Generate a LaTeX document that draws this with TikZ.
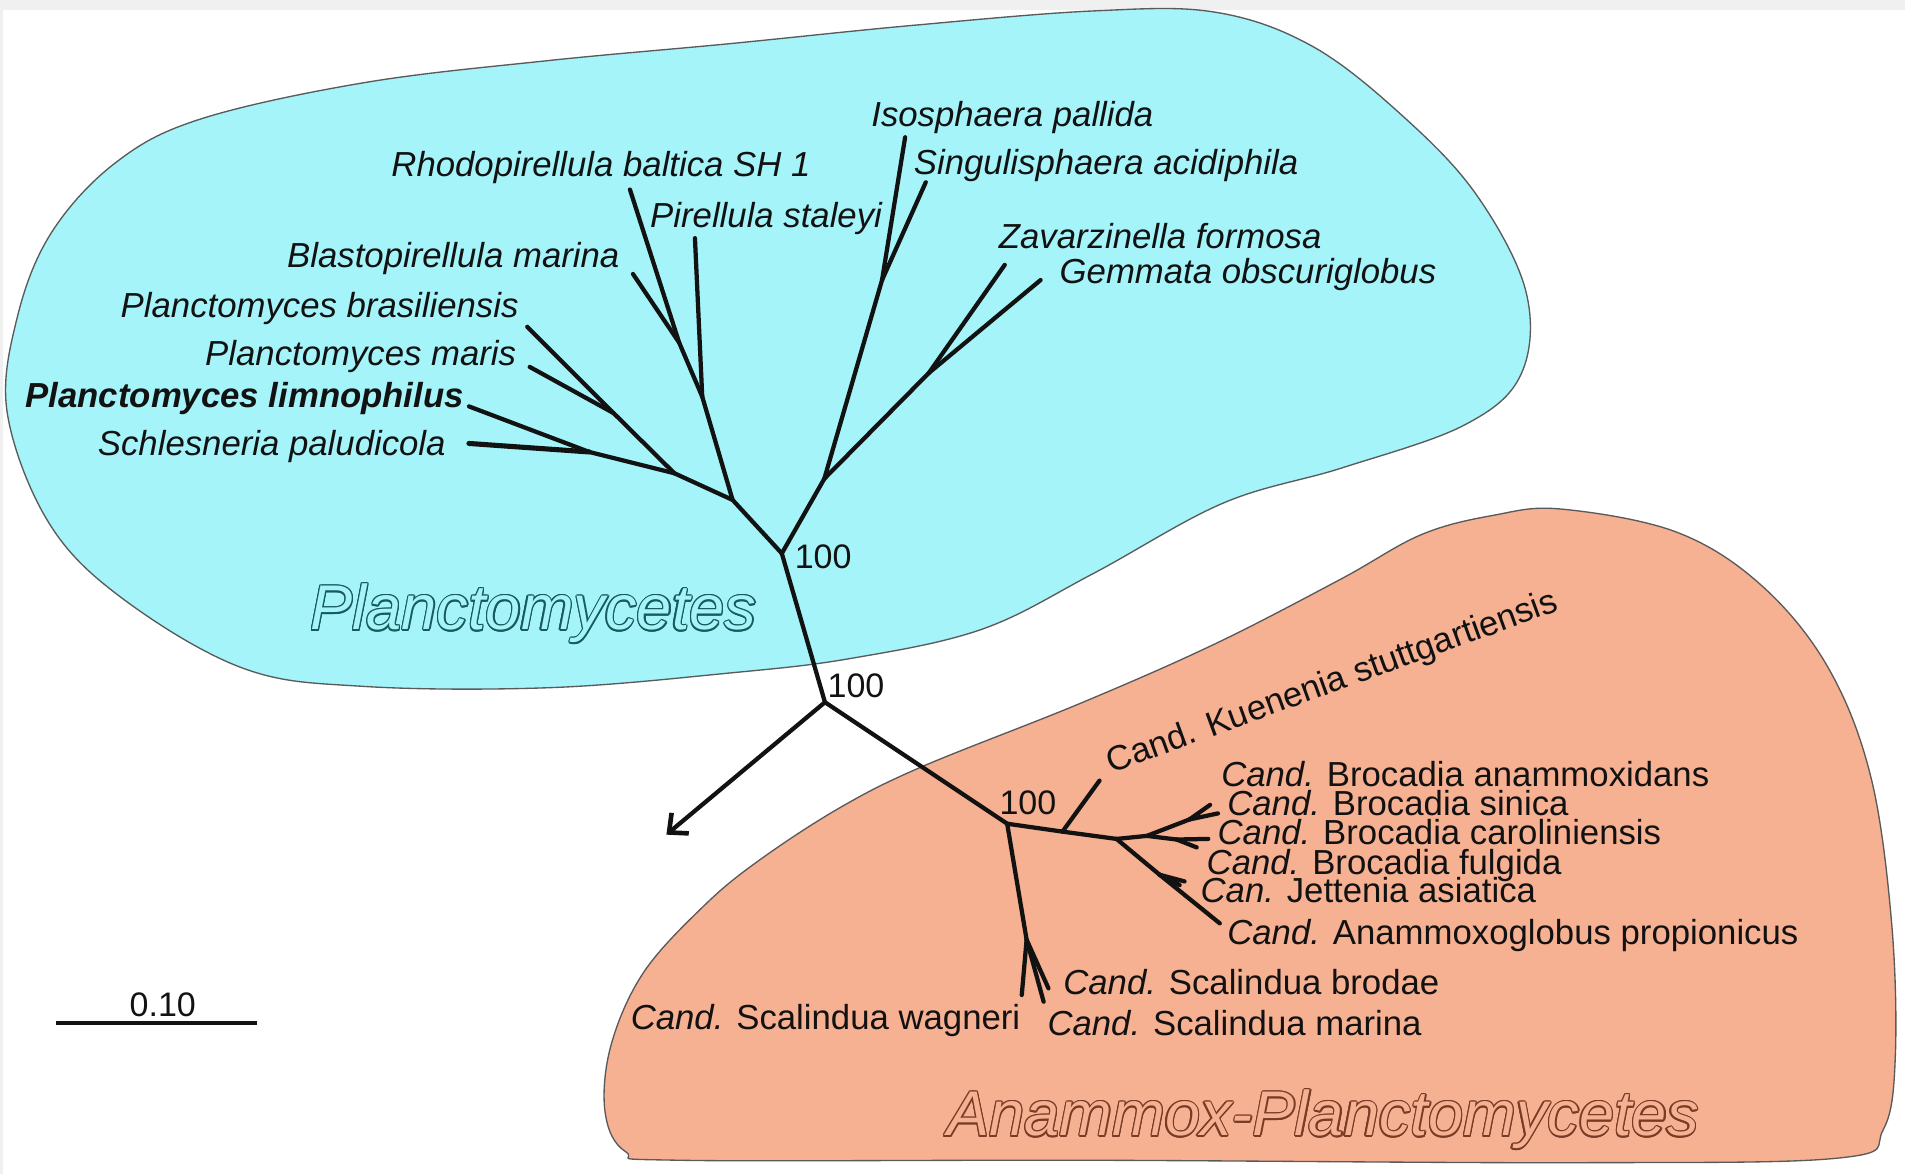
\documentclass[tikz,border=0pt]{standalone}
\usepackage{fontspec}
\setmainfont{Liberation Sans}
\usetikzlibrary{arrows.meta}
\definecolor{planc}{RGB}{164,244,250}
\definecolor{anam}{RGB}{246,176,146}
\definecolor{plancline}{RGB}{25,90,92}
\definecolor{anamline}{RGB}{120,60,38}
\definecolor{blobline}{RGB}{90,90,90}
\definecolor{labc}{RGB}{18,18,18}
\definecolor{bandgray}{RGB}{240,240,240}
\tikzset{
  br/.style={line width=3.5pt, line cap=round, line join=round, draw=labc},
  lab/.style={inner sep=0pt, font=\fontsize{28.6}{34}\selectfont\itshape, text=labc},
  alab/.style={inner sep=0pt, font=\fontsize{28.6}{34}\selectfont, text=labc},
  boot/.style={inner sep=0pt, font=\fontsize{28}{34}\selectfont, text=labc},
  big/.style={inner sep=0pt, font=\fontsize{52}{60}\selectfont\itshape},
  blob/.style={draw=blobline, line width=1.1pt},
}
\newcommand\outlinedlabel[5]{%
  \foreach \ang in {0,30,...,330}{\node[big,text=#3,anchor=base,shift={(\ang:1.1pt)}] (#1\ang) at (#2) {#5};}%
  \node[big,text=#4,anchor=base] (#1) at (#2) {#5};}
\begin{document}
\begin{tikzpicture}[x=1pt,y=-1pt]
\useasboundingbox (0,0) rectangle (1568,966);
% background
\fill[white] (0,0) rectangle (1568,966);
\fill[bandgray] (0,0) rectangle (1568,8);
\fill[bandgray] (0,0) rectangle (2.6,966);
% blobs
\path[blob, fill=planc] plot[smooth cycle, tension=0.6] coordinates {
 (6,340) (14,262) (42,192) (95,134) (165,98) (300,68) (450,50) (600,36) (750,21)
 (900,9) (1000,10) (1080,38) (1154,95) (1215,160) (1256,240) (1252,308) (1205,350)
 (1105,385) (1007,414) (900,472) (808,518) (700,542) (600,554) (453,566) (300,565)
 (200,550) (100,492) (40,430)};
\path[blob, fill=anam] plot[smooth cycle, tension=0.6] coordinates {
 (1285,419) (1380,438) (1450,482) (1505,550) (1540,640) (1557,760) (1560,870)
 (1550,930) (1515,953) (1300,957) (900,955) (560,955) (515,948) (498,915) (503,860)
 (530,800) (580,745) (625,708) (691,665) (759,631) (889,579) (1000,530) (1103,477)
 (1170,440) (1230,424)};
% group titles
\outlinedlabel{tplanc}{439,518.5}{plancline}{planc}{Planctomycetes}
\outlinedlabel{tanam}{1089,935}{anamline}{anam}{Anammox-Planctomycetes}
% tree coordinates: Planctomycetes
\coordinate (r1) at (679,578);
\coordinate (r2) at (643.5,455.5);
\coordinate (n3) at (603,411.5);
\coordinate (n4) at (678.5,394);
\coordinate (n5) at (555,389.5);
\coordinate (n7) at (485,372);
\coordinate (n8) at (505,340);
\coordinate (tlim) at (386,334.5);
\coordinate (tsch) at (386,365);
\coordinate (tbra) at (434,269);
\coordinate (tmar) at (436,302);
\coordinate (npir) at (578,326.5);
\coordinate (tpir) at (572,196);
\coordinate (nrb) at (559,282);
\coordinate (trho) at (518.5,156);
\coordinate (tbla) at (521,225.5);
\coordinate (nis) at (726,230.5);
\coordinate (tiso) at (745,113);
\coordinate (tsin) at (762,150);
\coordinate (nzg) at (764.5,307);
\coordinate (tzav) at (827,218);
\coordinate (tgem) at (856.5,230.5);
% tree coordinates: anammox
\coordinate (tarr) at (548.5,687);
\coordinate (n9) at (829,678);
\coordinate (n10) at (874.5,684.5);
\coordinate (tkue) at (905,642.5);
\coordinate (n11) at (919,690.5);
\coordinate (n12) at (944,688);
\coordinate (nba) at (979,674.5);
\coordinate (tba1) at (996,662.5);
\coordinate (tba2) at (1002.5,669.5);
\coordinate (nbc) at (968.5,691);
\coordinate (tbc1) at (994.5,690.5);
\coordinate (tbc2) at (985,697.5);
\coordinate (tanx) at (1004,760);
\coordinate (nj) at (954.5,720);
\coordinate (tj1) at (975,725.5);
\coordinate (tj2) at (971,728.5);
\coordinate (ns) at (845,773.5);
\coordinate (twag) at (841,819);
\coordinate (tbro) at (863,813.5);
\coordinate (tmarn) at (859,824.5);
% branches
\draw[br] (r1) -- (r2);
\draw[br] (r2) -- (n3);
\draw[br] (r2) -- (n4);
\draw[br] (n3) -- (n5);
\draw[br] (n5) -- (n8);
\draw[br] (n8) -- (tbra);
\draw[br] (n8) -- (tmar);
\draw[br] (n5) -- (n7);
\draw[br] (n7) -- (tlim);
\draw[br, line width=4.2pt] (n7) -- (tsch);
\draw[br] (n3) -- (npir);
\draw[br] (npir) -- (tpir);
\draw[br] (npir) -- (nrb);
\draw[br] (nrb) -- (trho);
\draw[br] (nrb) -- (tbla);
\draw[br] (n4) -- (nis);
\draw[br] (nis) -- (tiso);
\draw[br] (nis) -- (tsin);
\draw[br] (n4) -- (nzg);
\draw[br] (nzg) -- (tzav);
\draw[br] (nzg) -- (tgem);
\draw[br, line cap=butt, -{Straight Barb[length=12pt,width=22pt,line width=3.8pt]}] (r1) -- (tarr);
\draw[br] (r1) -- (n9);
\draw[br] (n9) -- (n10);
\draw[br] (n10) -- (tkue);
\draw[br] (n10) -- (n11);
\draw[br] (n11) -- (n12);
\draw[br] (n12) -- (nba);
\draw[br] (nba) -- (tba1);
\draw[br] (nba) -- (tba2);
\draw[br] (n12) -- (nbc);
\draw[br] (nbc) -- (tbc1);
\draw[br] (nbc) -- (tbc2);
\draw[br] (n11) -- (nj);
\draw[br] (nj) -- (tanx);
\draw[br] (nj) -- (tj1);
\draw[br] (nj) -- (tj2);
\draw[br] (n9) -- (ns);
\draw[br] (ns) -- (twag);
\draw[br] (ns) -- (tbro);
\draw[br] (ns) -- (tmarn);
% bootstrap values
\node[boot, anchor=base west] (b1) at (654,468) {100};
\node[boot, anchor=base west] (b2) at (681,574) {100};
\node[boot, anchor=base west] (b3) at (822.5,670) {100};
% Planctomycetes labels
\node[lab, anchor=base west] (lIso) at (717,104) {Isosphaera pallida};
\node[lab, anchor=base west] (lSin) at (752,143.5) {Singulisphaera acidiphila};
\node[lab, anchor=base west] (lRho) at (322,145.5) {Rhodopirellula baltica SH 1};
\node[lab, anchor=base west] (lPir) at (535,187) {Pirellula staleyi};
\node[lab, anchor=base west] (lZav) at (822,204.5) {Zavarzinella formosa};
\node[lab, anchor=base west] (lGem) at (872,233) {Gemmata obscuriglobus};
\node[lab, anchor=base east] (lBla) at (510,220) {Blastopirellula marina};
\node[lab, anchor=base east] (lBra) at (427,261) {Planctomyces brasiliensis};
\node[lab, anchor=base east] (lMar) at (425,301) {Planctomyces maris};
\node[lab, anchor=base east, font=\fontsize{28.6}{34}\selectfont\bfseries\itshape] (lLim) at (382,335.5) {Planctomyces limnophilus};
\node[lab, anchor=base east] (lSch) at (367,375) {Schlesneria paludicola};
% Anammox labels
\node[alab, anchor=base west, rotate=20] (lKue) at (915,636.5) {Cand. Kuenenia stuttgartiensis};
\node[alab, anchor=base west] (lBan) at (1005,647.5) {\textit{Cand.} Brocadia anammoxidans};
\node[alab, anchor=base west] (lBsi) at (1010,671.5) {\textit{Cand.} Brocadia sinica};
\node[alab, anchor=base west] (lBca) at (1002,695.5) {\textit{Cand.} Brocadia caroliniensis};
\node[alab, anchor=base west] (lBfu) at (993,719.5) {\textit{Cand.} Brocadia fulgida};
\node[alab, anchor=base west] (lJet) at (988,743) {\textit{Can.} Jettenia asiatica};
\node[alab, anchor=base west] (lAnx) at (1010,777.5) {\textit{Cand.} Anammoxoglobus propionicus};
\node[alab, anchor=base west] (lSbr) at (875,818.5) {\textit{Cand.} Scalindua brodae};
\node[alab, anchor=base west] (lSma) at (862,852) {\textit{Cand.} Scalindua marina};
\node[alab, anchor=base east] (lSwa) at (840,847.5) {\textit{Cand.} Scalindua wagneri};
% scale bar
\coordinate (sb1) at (46.5,842);
\coordinate (sb2) at (211.5,842);
\draw[line width=3.3pt, draw=labc] (sb1) -- (sb2);
\node[boot, anchor=base] (sbl) at (134,837) {0.10};
\end{tikzpicture}
\end{document}
